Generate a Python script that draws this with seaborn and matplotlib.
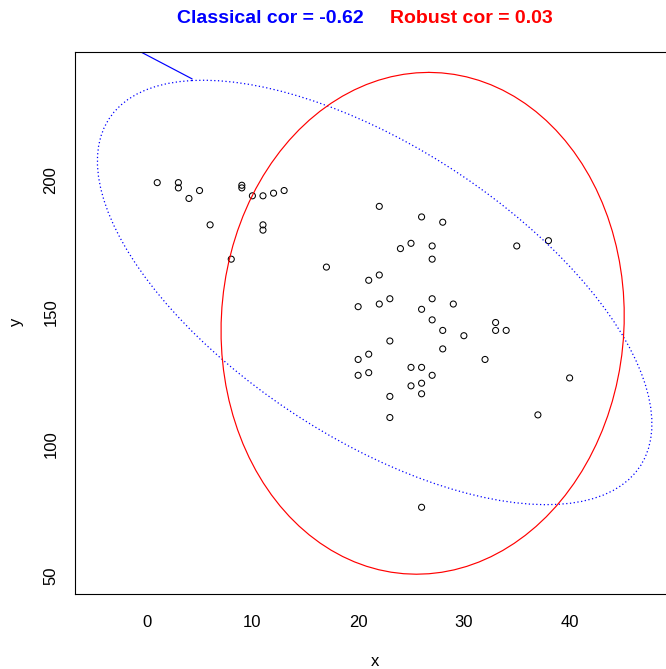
import numpy as np
import pandas as pd
import matplotlib
matplotlib.use("Agg")
import matplotlib.pyplot as plt
import seaborn as sns

# ---- data ----
x_vals = [1, 3, 3, 5, 4, 6, 8, 9, 9, 10, 11, 12, 13, 11, 11, 17,
          22, 26, 28, 24, 25, 27, 27, 35, 38, 22, 21, 23, 27, 20, 22, 26,
          29, 27, 33, 33, 34, 28, 30, 23, 28, 21, 20, 32, 25, 26, 21, 20,
          27, 40, 26, 25, 26, 23, 37, 23, 26]
y_vals = [199, 199, 197, 196, 193, 183, 170, 198, 197, 194, 194, 195, 196, 183, 181, 167,
          190, 186, 184, 174, 176, 175, 170, 175, 177, 164, 162, 155, 155, 152, 153, 151,
          153, 147, 146, 143, 143, 143, 141, 139, 136, 134, 132, 132, 129, 129, 127, 126,
          126, 125, 123, 122, 119, 118, 111, 110, 76]

# robust (MCD) location / scatter
robust_center = [26.1, 145.7]
robust_sd = [7.02, 35.0]
robust_cor = 0.03

# stray solid blue segment at the top-left
seg_x = [4.3, -1.5]
seg_y = [238.3, 250.5]

alpha = 0.025
df = pd.DataFrame({"x": x_vals, "y": y_vals})

sns.set_theme(style="white")
plt.rcParams["font.family"] = ["Liberation Sans", "DejaVu Sans"]

fig = plt.figure(figsize=(6.66, 6.69), dpi=100)
W, H = 666, 669
left, right, top, bottom = 75.3, 674.0, 52.3, 594.3
ax = fig.add_axes([left / W, (H - bottom) / H, (right - left) / W, (bottom - top) / H])

# ellipses
q = np.sqrt(-2 * np.log(alpha))  # chi2 quantile with 2 df
t = np.arange(101) / 100 * 2 * np.pi
circ = np.column_stack([np.cos(t), np.sin(t)]) * q

X = df[["x", "y"]].to_numpy(float)
cov_c = np.cov(X.T)
u, d, _ = np.linalg.svd(cov_c)
tt = (u @ np.diag(np.sqrt(d)) @ circ.T).T + X.mean(axis=0)

sx, sy = robust_sd
cov_r = np.array([[sx * sx, robust_cor * sx * sy], [robust_cor * sx * sy, sy * sy]])
ur, dr, _ = np.linalg.svd(cov_r)
ttr = (ur @ np.diag(np.sqrt(dr)) @ circ.T).T + np.array(robust_center)

sns.scatterplot(data=df, x="x", y="y", ax=ax, marker="o", s=19,
                facecolor="none", edgecolor="black", linewidth=0.75, legend=False)
ax.plot(tt[:, 0], tt[:, 1], color="blue", linestyle=(0, (1, 2)), linewidth=0.9)
ax.plot(ttr[:, 0], ttr[:, 1], color="red", linewidth=0.85)

ax.margins(0.04)
ax.autoscale_view()
xl, yl = ax.get_xlim(), ax.get_ylim()
ax.plot(seg_x, seg_y, color="blue", linewidth=0.85, clip_on=True)
ax.set_xlim(xl)
ax.set_ylim(yl)

ax.set_xticks([0, 10, 20, 30, 40])
ax.set_yticks([50, 100, 150, 200])
for sp in ax.spines.values():
    sp.set_color("black")
    sp.set_linewidth(0.8)
ax.tick_params(axis="both", direction="out", length=7.2, width=0.8, color="black",
               labelsize=12, labelcolor="black")
ax.tick_params(axis="x", pad=8)
ax.tick_params(axis="y", pad=5)
for lab in ax.get_yticklabels():
    lab.set_rotation(90)
    lab.set_va("center")

ax.set_xlabel("x", fontsize=12, color="black", va="center")
ax.set_ylabel("y", fontsize=12, color="black", va="center", rotation=90)
ax.xaxis.set_label_coords(0.5, (bottom - 662) / (bottom - top))
ax.yaxis.set_label_coords((17 - left) / (right - left), (bottom - 322) / (bottom - top))

c1 = np.corrcoef(X.T)[0, 1]
fig.text(364 / W, 1 - 23.3 / H, f"Classical cor = {c1:.2f}", color="blue",
         fontsize=14.0, fontweight="bold", ha="right", va="baseline")
fig.text(390 / W, 1 - 23.3 / H, f"Robust cor = {robust_cor:.2f}", color="red",
         fontsize=14.0, fontweight="bold", ha="left", va="baseline")

fig.savefig("out.png", dpi=100)
